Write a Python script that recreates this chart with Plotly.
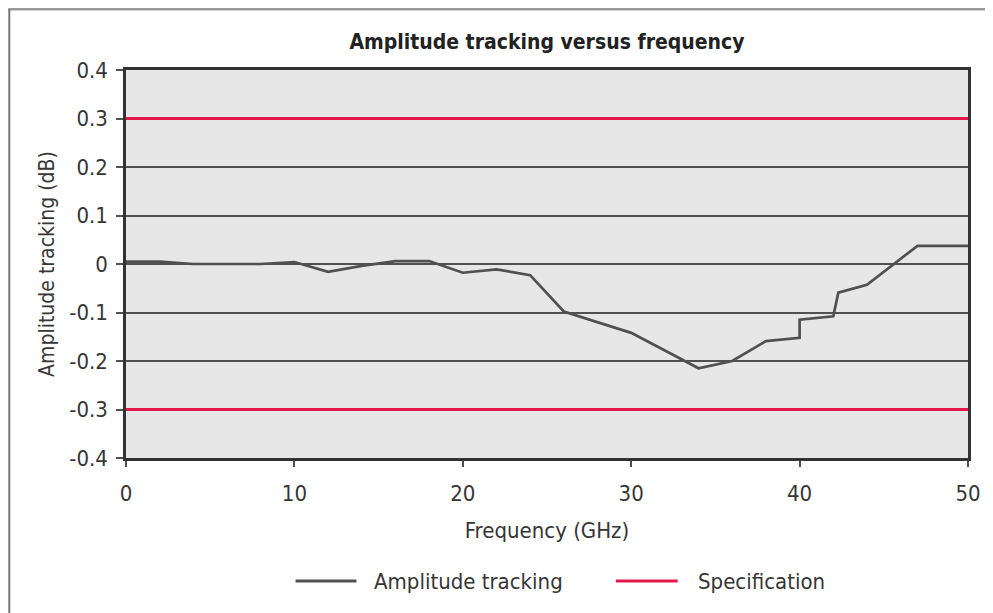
import plotly.graph_objects as go

# Data
freq_ghz = [0, 2, 4, 8, 10, 12, 14, 16, 18, 20, 22, 24, 26, 30, 34, 36, 38, 40, 40, 42, 42.3, 44, 47, 50]
amp_db = [0.005, 0.005, 0.0, 0.0, 0.004, -0.016, -0.004, 0.006, 0.006, -0.018, -0.011, -0.023, -0.098,
          -0.142, -0.215, -0.200, -0.159, -0.152, -0.115, -0.108, -0.059, -0.043, 0.0375, 0.0375]
spec_x = [0, 50]
spec_upper = [0.3, 0.3]
spec_lower = [-0.3, -0.3]
y_ticks = [0.4, 0.3, 0.2, 0.1, 0, -0.1, -0.2, -0.3, -0.4]
y_tick_text = ["0.4", "0.3", "0.2", "0.1", "0", "-0.1", "-0.2", "-0.3", "-0.4"]
x_ticks = [0, 10, 20, 30, 40, 50]
series_names = ["Amplitude tracking", "Specification"]

FONT = "Liberation Sans Narrow, DejaVu Sans Condensed, Roboto Condensed, Liberation Sans, sans-serif"
TXT = "#363636"
RED = "#e3174a"
GRAY = "#505050"

# page offset (body margin) = 8 px; plot area on page: x 126..970, y 70..458
OFF = 8
PL, PR, PT, PB = 126, 970, 70, 458
W, H = 993 - OFF, 613 - OFF
PW, PH = PR - PL, PB - PT


def px(p):
    return (p - PL) / PW


def py(p):
    return (PB - p) / PH


fig = go.Figure()
fig.add_trace(go.Scatter(x=freq_ghz, y=amp_db, mode="lines", name=series_names[0],
                         line=dict(color=GRAY, width=2.7)))
fig.add_trace(go.Scatter(x=spec_x, y=spec_upper, mode="lines", name=series_names[1],
                         line=dict(color=RED, width=3)))
fig.add_trace(go.Scatter(x=spec_x, y=spec_lower, mode="lines", name=series_names[1],
                         line=dict(color=RED, width=3)))

fig.update_layout(
    width=W, height=H,
    margin=dict(l=PL - OFF, r=993 - PR, t=PT - OFF, b=613 - PB),
    paper_bgcolor="white", plot_bgcolor="#e7e7e7",
    font=dict(family=FONT, color=TXT, size=22),
    title=dict(text="<b>Amplitude tracking versus frequency</b>", x=0.5, xref="paper",
               xanchor="center", y=(H - (42 - OFF)) / H, yref="container", yanchor="middle",
               font=dict(size=21, color="#222222", family=FONT)),
    showlegend=False,
)

fig.update_xaxes(range=[0, 50], tickvals=x_ticks, ticks="outside", ticklen=6, tickcolor=GRAY,
                 tickwidth=1.5, showgrid=False, zeroline=False, showline=True, linecolor="#333333",
                 linewidth=2.5, mirror=True, ticklabelstandoff=8,
                 title=dict(text="Frequency (GHz)", standoff=18, font=dict(size=22)))
fig.update_yaxes(range=[-0.4, 0.4], tickvals=y_ticks, ticktext=y_tick_text, ticks="outside",
                 ticklen=7, tickcolor=GRAY, tickwidth=1.5, showgrid=True,
                 gridcolor=GRAY, gridwidth=1.5, zeroline=False, showline=True,
                 linecolor="#333333", linewidth=2.5, mirror=True, ticklabelstandoff=4,
                 title=dict(text="Amplitude tracking (dB)", standoff=9, font=dict(size=21)))

# custom legend (line samples + labels)
LEG_Y = 581
legend_items = [(296, 357, 373, GRAY, series_names[0]), (617, 679, 697, RED, series_names[1])]
for x0, x1, xt, col, name in legend_items:
    fig.add_shape(type="line", xref="paper", yref="paper", x0=px(x0), x1=px(x1),
                  y0=py(LEG_Y), y1=py(LEG_Y), line=dict(color=col, width=3))
    fig.add_annotation(xref="paper", yref="paper", x=px(xt), y=py(LEG_Y), text=name,
                       showarrow=False, xanchor="left", yanchor="middle",
                       font=dict(size=22, color=TXT, family=FONT))

# outer frame (top and left edges) as in the reference image
fig.add_shape(type="line", xref="paper", yref="paper", x0=px(OFF), x1=px(993),
              y0=py(9), y1=py(9), line=dict(color="#999999", width=3))
fig.add_shape(type="line", xref="paper", yref="paper", x0=px(9), x1=px(9),
              y0=py(613), y1=py(9), line=dict(color="#777777", width=2))

fig.write_html("out.html")
